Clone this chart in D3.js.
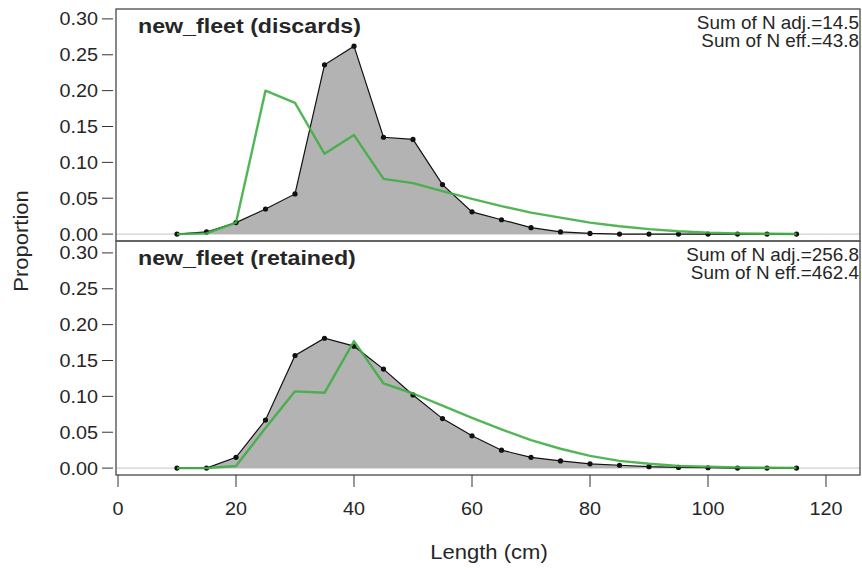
<!DOCTYPE html>
<html>
<head>
<meta charset="utf-8">
<script src="https://cdn.jsdelivr.net/npm/d3@7"></script>
<style>
  body { margin: 0; background: #fff; }
  svg { display: block; font-family: "Liberation Sans", Arial, sans-serif; }
</style>
</head>
<body>
<div id="chart-container"></div>
<script>
// length bins (cm)
const lengths = [10, 15, 20, 25, 30, 35, 40, 45, 50, 55, 60, 65, 70, 75, 80, 85, 90, 95, 100, 105, 110, 115];

// discards: observed / expected proportions
const discObs = [0.000, 0.003, 0.016, 0.035, 0.056, 0.236, 0.262, 0.135, 0.132, 0.069, 0.031, 0.020, 0.009, 0.003, 0.001, 0, 0, 0, 0, 0, 0, 0];
const discExp = [0.000, 0.001, 0.016, 0.200, 0.183, 0.112, 0.138, 0.077, 0.071, 0.060, 0.049, 0.039, 0.030, 0.023, 0.016, 0.011, 0.007, 0.004, 0.002, 0.001, 0.0005, 0.0002];

// retained: observed / expected proportions
const retObs = [0, 0, 0.015, 0.067, 0.157, 0.181, 0.170, 0.138, 0.102, 0.069, 0.045, 0.025, 0.015, 0.010, 0.006, 0.004, 0.002, 0.001, 0.0005, 0, 0, 0];
const retExp = [0, 0, 0.003, 0.056, 0.107, 0.105, 0.177, 0.118, 0.104, 0.087, 0.070, 0.054, 0.039, 0.027, 0.017, 0.010, 0.006, 0.003, 0.002, 0.001, 0.0005, 0.0003];

const panelTitles = ["new_fleet (discards)", "new_fleet (retained)"];
const panelNotes = [
    ["Sum of N adj.=14.5", "Sum of N eff.=43.8"],
    ["Sum of N adj.=256.8", "Sum of N eff.=462.4"]
];
const yTicks = [0, 0.05, 0.10, 0.15, 0.20, 0.25, 0.30];
const xTicks = [0, 20, 40, 60, 80, 100, 120];

const W = 862, H = 571;
const left = 116, right = 860;
const panels = [
    { top: 9, bottom: 241, obs: discObs, exp: discExp },
    { top: 241, bottom: 475, obs: retObs, exp: retExp }
];

const svg = d3.select('#chart-container')
    .append('svg')
    .attr('width', W)
    .attr('height', H);

const xScale = d3.scaleLinear().domain([0, 120]).range([118, 826]);

// text helper: R's font renders a bit wider than Liberation Sans
function addText(g, x, y, str, opts) {
    const o = Object.assign({ size: 18, sx: 1.1, anchor: 'start', weight: 'normal', rotate: 0 }, opts);
    return g.append('text')
        .attr('transform', `translate(${x},${y}) rotate(${o.rotate}) scale(${o.sx},1)`)
        .attr('text-anchor', o.anchor)
        .attr('font-size', o.size)
        .attr('font-weight', o.weight)
        .attr('fill', '#262626')
        .text(str);
}

panels.forEach((p, i) => {
    const yScale = d3.scaleLinear().domain([0, 0.3]).range([p.bottom - 6.9, p.bottom - 222.1]);
    const g = svg.append('g');

    const obsPts = lengths.map((d, j) => [d, p.obs[j]]);
    const expPts = lengths.map((d, j) => [d, p.exp[j]]);

    // zero reference line
    g.append('line')
        .attr('x1', left).attr('x2', right)
        .attr('y1', yScale(0)).attr('y2', yScale(0))
        .attr('stroke', '#c4c4c4').attr('stroke-width', 1);

    // observed polygon
    const area = d3.area().x(d => xScale(d[0])).y0(yScale(0)).y1(d => yScale(d[1]));
    g.append('path')
        .datum(obsPts)
        .attr('d', area)
        .attr('fill', '#b3b3b3');

    const line = d3.line().x(d => xScale(d[0])).y(d => yScale(d[1]));
    g.append('path')
        .datum(obsPts)
        .attr('d', line)
        .attr('fill', 'none')
        .attr('stroke', '#111')
        .attr('stroke-width', 1.2);

    g.selectAll('.pt')
        .data(obsPts)
        .enter()
        .append('circle')
        .attr('cx', d => xScale(d[0]))
        .attr('cy', d => yScale(d[1]))
        .attr('r', 2.6)
        .attr('fill', '#111');

    // expected line
    g.append('path')
        .datum(expPts)
        .attr('d', line)
        .attr('fill', 'none')
        .attr('stroke', '#3fae45')
        .attr('stroke-opacity', 0.9)
        .attr('stroke-width', 2.4)
        .attr('stroke-linejoin', 'round');

    // panel box
    g.append('rect')
        .attr('x', left).attr('y', p.top)
        .attr('width', right - left).attr('height', p.bottom - p.top)
        .attr('fill', 'none')
        .attr('stroke', '#555')
        .attr('stroke-width', 1.4);

    // y ticks
    yTicks.forEach(t => {
        g.append('line')
            .attr('x1', 102).attr('x2', 113)
            .attr('y1', yScale(t)).attr('y2', yScale(t))
            .attr('stroke', '#333').attr('stroke-width', 1);
        addText(g, 98, yScale(t) + 6.5, t.toFixed(2), { anchor: 'end', size: 18, sx: 1.1 });
    });

    // titles and notes
    addText(g, 138, p.top + 24, panelTitles[i], { size: 19.5, sx: 1.19, weight: 'bold' });
    panelNotes[i].forEach((s, k) => {
        addText(g, 859, p.top + 19.5 + k * 18.4, s, { anchor: 'end', size: 18, sx: 1.05 });
    });
});

// x axis
const xAxis = svg.append('g');
xTicks.forEach(t => {
    xAxis.append('line')
        .attr('x1', xScale(t)).attr('x2', xScale(t))
        .attr('y1', 475).attr('y2', 487)
        .attr('stroke', '#333').attr('stroke-width', 1);
    addText(xAxis, xScale(t), 515, t, { anchor: 'middle', size: 18, sx: 1.1 });
});

addText(svg, 489, 559, 'Length (cm)', { anchor: 'middle', size: 19.5, sx: 1.13 });
addText(svg, 28, 241, 'Proportion', { anchor: 'middle', size: 19.5, sx: 1.13, rotate: -90 });
</script>
</body>
</html>
